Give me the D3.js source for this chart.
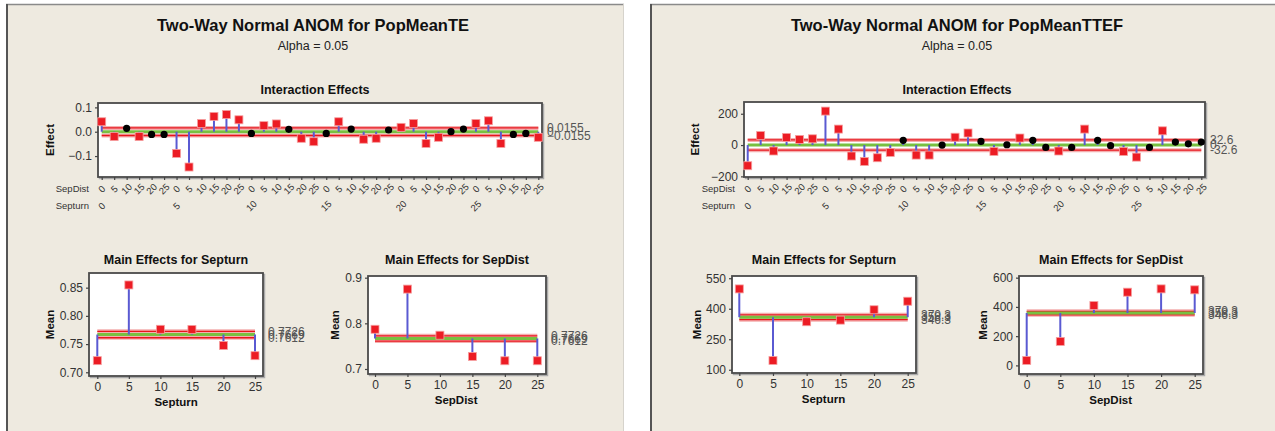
<!DOCTYPE html>
<html>
<head>
<meta charset="utf-8">
<script src="https://cdn.jsdelivr.net/npm/d3@7"></script>
<style>
  body { margin: 0; background: #ffffff; }
  svg { display: block; font-family: "Liberation Sans", Arial, sans-serif; }
</style>
</head>
<body>
<svg id="chart" width="1275" height="431"></svg>
<script>
// ---- factor levels ----
const septurnLevels = [0, 5, 10, 15, 20, 25];
const sepDistLevels = [0, 5, 10, 15, 20, 25];

// ---- PopMeanTE ----
// interaction effects, ordered Septurn-major, SepDist-minor
const teInteraction = [
   0.041, -0.020,  0.014, -0.020, -0.011, -0.011,
  -0.089, -0.145,  0.034,  0.063,  0.071,  0.049,
  -0.007,  0.025,  0.032,  0.010, -0.027, -0.041,
  -0.007,  0.041,  0.011, -0.031, -0.027,  0.007,
   0.018,  0.034, -0.048, -0.023,  0.000,  0.011,
   0.034,  0.045, -0.048, -0.011, -0.007, -0.023
];
const teInteractionLimit = 0.0155;
const teSepturnMeans = [0.7206, 0.8548, 0.7762, 0.7760, 0.7476, 0.7294];
const teSepDistMeans = [0.7870, 0.8750, 0.7740, 0.7275, 0.7180, 0.7180];
const teMainLimits = [0.7612, 0.7669, 0.7726];   // lower, centre, upper
const teMainLabels = ["0.7612", "0.7669", "0.7726"];
const teEffectTicks = [-0.1, 0.0, 0.1];
const teSepturnTicks = [0.70, 0.75, 0.80, 0.85];
const teSepDistTicks = [0.7, 0.8, 0.9];

// ---- PopMeanTTEF ----
const ttefInteraction = [
  -132,   61,  -38,   49,   36,   40,
   217,  102,  -70, -105,  -81,  -47,
    30,  -64,  -64,    0,   50,   77,
    23,  -41,    2,   45,   30,  -15,
   -38,  -15,  102,   30,   -4,  -41,
   -77,  -15,   91,   19,    8,   19
];
const ttefInteractionLimit = 32.6;
const ttefSepturnMeans = [497.5, 145.6, 336.0, 344.0, 395.0, 437.0];
const ttefSepDistMeans = [34.0, 164.0, 410.0, 501.0, 523.5, 517.0];
const ttefMainLimits = [346.3, 358.3, 370.3];
const ttefMainLabels = ["346.3", "358.3", "370.3"];
const ttefEffectTicks = [-200, 0, 200];
const ttefSepturnTicks = [100, 250, 400, 550];
const ttefSepDistTicks = [0, 200, 400, 600];

// ---- styling ----
const BG = "#eeeae0";
const RED = "#ec1c24";
const BLUE = "#5a5ad2";
const GREEN = "#78c041";
const TXT = "#333";

const svg = d3.select("#chart");

// panel backgrounds
function panel(x0, x1) {
  const g = svg.append("g");
  g.append("rect").attr("x", x0).attr("y", 4).attr("width", x1 - x0).attr("height", 440)
    .attr("fill", BG);
  g.append("line").attr("x1", x0).attr("x2", x1).attr("y1", 4.5).attr("y2", 4.5)
    .attr("stroke", "#8a8a8a").attr("stroke-width", 1.5);
  g.append("line").attr("x1", x0 + 1).attr("x2", x0 + 1).attr("y1", 4).attr("y2", 431)
    .attr("stroke", "#555").attr("stroke-width", 2);
  g.append("line").attr("x1", x1 - 0.5).attr("x2", x1 - 0.5).attr("y1", 4).attr("y2", 431)
    .attr("stroke", "#d6d3cc").attr("stroke-width", 1);
  return g;
}

function titles(g, cx, title) {
  g.append("text").attr("x", cx).attr("y", 31).attr("text-anchor", "middle")
    .attr("font-size", 16.5).attr("font-weight", "bold").attr("fill", "#111").text(title);
  g.append("text").attr("x", cx).attr("y", 50).attr("text-anchor", "middle")
    .attr("font-size", 12.5).attr("fill", "#222").text("Alpha = 0.05");
}

function limitLine(g, x1, x2, y, color) {
  if (color === RED) {
    g.append("line").attr("x1", x1).attr("x2", x2).attr("y1", y).attr("y2", y)
      .attr("stroke", "#f29a9a").attr("stroke-width", 4).attr("opacity", 0.8);
    g.append("line").attr("x1", x1).attr("x2", x2).attr("y1", y).attr("y2", y)
      .attr("stroke", "#e8141c").attr("stroke-width", 1.3);
  } else {
    g.append("line").attr("x1", x1).attr("x2", x2).attr("y1", y).attr("y2", y)
      .attr("stroke", GREEN).attr("stroke-width", 3);
  }
}

function styleAxis(axG) {
  axG.select(".domain").remove();
  axG.selectAll(".tick line").attr("stroke", "#444").attr("stroke-width", 1.2);
  axG.selectAll(".tick text").attr("fill", TXT).attr("font-size", 12)
    .attr("font-family", "Liberation Sans, Arial, sans-serif");
}

function frame(g, b) {
  g.append("rect").attr("x", b.x0 + 1.5).attr("y", b.y0 + 1.5)
    .attr("width", b.x1 - b.x0).attr("height", b.y1 - b.y0)
    .attr("fill", "none").attr("stroke", "#aaa").attr("stroke-width", 1.5);
  g.append("rect").attr("x", b.x0).attr("y", b.y0)
    .attr("width", b.x1 - b.x0).attr("height", b.y1 - b.y0)
    .attr("fill", "#fff").attr("stroke", "#4a4a4a").attr("stroke-width", 1.8);
}

function drawMarker(g, x, y, out) {
  if (out) {
    g.append("rect").attr("x", x - 4).attr("y", y - 4).attr("width", 8).attr("height", 8)
      .attr("fill", RED).attr("stroke", "#f6a0a0").attr("stroke-width", 0.8);
  } else {
    g.append("circle").attr("cx", x).attr("cy", y).attr("r", 3.6).attr("fill", "#000");
  }
}

function sideLabels(g, x, ys, labels) {
  labels.forEach((t, i) => {
    g.append("text").attr("x", x).attr("y", ys[i]).attr("dy", "0.35em")
      .attr("font-size", 12).attr("fill", "#555").text(t);
  });
}

// ---- interaction effects chart ----
function interaction(g, cfg) {
  const b = cfg.box;
  g.append("text").attr("x", cfg.titleX).attr("y", 94).attr("text-anchor", "middle")
    .attr("font-size", 12.5).attr("font-weight", "bold").attr("fill", "#111")
    .text("Interaction Effects");
  frame(g, b);
  const idx = d3.range(cfg.values.length);
  const x = d3.scalePoint().domain(idx).range([b.x0 + 3.7, b.x1 - 3.7]);
  const y = d3.scaleLinear().domain(cfg.yDomain).range([b.y1, b.y0]);
  const lim = cfg.limit;

  limitLine(g, x(0), x(idx.length - 1), y(lim), RED);
  limitLine(g, x(0), x(idx.length - 1), y(-lim), RED);
  limitLine(g, x(0), x(idx.length - 1), y(0), GREEN);

  cfg.values.forEach((v, i) => {
    g.append("line").attr("x1", x(i)).attr("x2", x(i)).attr("y1", y(0)).attr("y2", y(v))
      .attr("stroke", BLUE).attr("stroke-width", 2);
  });
  cfg.values.forEach((v, i) => drawMarker(g, x(i), y(v), Math.abs(v) > lim));

  const ya = g.append("g").attr("transform", `translate(${b.x0},0)`)
    .call(d3.axisLeft(y).tickValues(cfg.ticks).tickFormat(cfg.fmt).tickSize(3).tickPadding(3));
  styleAxis(ya);
  const xa = g.append("g").attr("transform", `translate(0,${b.y1})`)
    .call(d3.axisBottom(x).tickValues(idx).tickFormat("").tickSize(3));
  styleAxis(xa);

  // SepDist row
  idx.forEach(i => {
    const lvl = sepDistLevels[i % sepDistLevels.length];
    g.append("text").attr("transform", `translate(${x(i)},${b.y1 + 12}) rotate(-45)`)
      .attr("text-anchor", "middle").attr("dy", "0.35em")
      .attr("font-size", 9.5).attr("fill", TXT).text(lvl);
  });
  // Septurn row
  septurnLevels.forEach((lvl, k) => {
    const i = k * sepDistLevels.length;
    g.append("text").attr("transform", `translate(${x(i)},${b.y1 + 29}) rotate(-45)`)
      .attr("text-anchor", "middle").attr("dy", "0.35em")
      .attr("font-size", 9.5).attr("fill", TXT).text(lvl);
  });
  g.append("text").attr("x", b.x0 - 9).attr("y", b.y1 + 12).attr("dy", "0.35em")
    .attr("text-anchor", "end").attr("font-size", 9.5).attr("fill", TXT).text("SepDist");
  g.append("text").attr("x", b.x0 - 9).attr("y", b.y1 + 29).attr("dy", "0.35em")
    .attr("text-anchor", "end").attr("font-size", 9.5).attr("fill", TXT).text("Septurn");

  g.append("text").attr("transform", `translate(${cfg.yLabelX},${(b.y0 + b.y1) / 2}) rotate(-90)`)
    .attr("text-anchor", "middle").attr("dy", "0.35em")
    .attr("font-size", 11.5).attr("font-weight", "bold").attr("fill", "#111").text("Effect");

  sideLabels(g, b.x1 + 5, [y(lim), y(0), y(-lim)], cfg.limitLabels);
}

// ---- main effects chart ----
function mainEffects(g, cfg) {
  const b = cfg.box;
  g.append("text").attr("x", (b.x0 + b.x1) / 2).attr("y", 264).attr("text-anchor", "middle")
    .attr("font-size", 12.5).attr("font-weight", "bold").attr("fill", "#111").text(cfg.title);
  frame(g, b);
  const x = d3.scaleLinear().domain([0, 25]).range([b.x0 + cfg.xPad[0], b.x1 - cfg.xPad[1]]);
  const y = d3.scaleLinear().domain(cfg.yDomain).range([b.y1, b.y0]);
  const [lo, mid, hi] = cfg.limits;

  limitLine(g, x(0), x(25), y(hi), RED);
  limitLine(g, x(0), x(25), y(lo), RED);
  limitLine(g, x(0), x(25), y(mid), GREEN);

  cfg.values.forEach((v, i) => {
    g.append("line").attr("x1", x(cfg.levels[i])).attr("x2", x(cfg.levels[i]))
      .attr("y1", y(mid)).attr("y2", y(v)).attr("stroke", BLUE).attr("stroke-width", 2);
  });
  cfg.values.forEach((v, i) => drawMarker(g, x(cfg.levels[i]), y(v), v > hi || v < lo));

  const ya = g.append("g").attr("transform", `translate(${b.x0},0)`)
    .call(d3.axisLeft(y).tickValues(cfg.ticks).tickFormat(cfg.fmt).tickSize(3).tickPadding(3));
  styleAxis(ya);
  const xa = g.append("g").attr("transform", `translate(0,${b.y1})`)
    .call(d3.axisBottom(x).tickValues(cfg.levels).tickFormat(d3.format("d")).tickSize(3).tickPadding(3));
  styleAxis(xa);

  g.append("text").attr("x", (x(0) + x(25)) / 2).attr("y", b.y1 + 30).attr("text-anchor", "middle")
    .attr("font-size", 11.5).attr("font-weight", "bold").attr("fill", "#111").text(cfg.xTitle);
  g.append("text").attr("transform", `translate(${cfg.yLabelX},${(b.y0 + b.y1) / 2}) rotate(-90)`)
    .attr("text-anchor", "middle").attr("dy", "0.35em")
    .attr("font-size", 11.5).attr("font-weight", "bold").attr("fill", "#111").text("Mean");

  sideLabels(g, b.x1 + 5, [y(hi), y(mid), y(lo)], [cfg.labels[2], cfg.labels[1], cfg.labels[0]]);
}

// ---------------- PopMeanTE panel ----------------
const left = panel(6, 624);
titles(left, 313, "Two-Way Normal ANOM for PopMeanTE");
interaction(left, {
  box: { x0: 98, y0: 103, x1: 542, y1: 177 }, titleX: 315, yLabelX: 50,
  values: teInteraction, limit: teInteractionLimit, yDomain: [-0.186, 0.118],
  ticks: teEffectTicks, fmt: d3.format(".1f"),
  limitLabels: [d3.format(".4f")(teInteractionLimit), "0", d3.format(".4f")(-teInteractionLimit)]
});
mainEffects(left, {
  title: "Main Effects for Septurn", xTitle: "Septurn",
  box: { x0: 89, y0: 273, x1: 263, y1: 376 }, xPad: [8.3, 8], yLabelX: 50,
  levels: septurnLevels, values: teSepturnMeans, limits: teMainLimits, labels: teMainLabels,
  yDomain: [0.6934, 0.876], ticks: teSepturnTicks, fmt: d3.format(".2f")
});
mainEffects(left, {
  title: "Main Effects for SepDist", xTitle: "SepDist",
  box: { x0: 368, y0: 276, x1: 546, y1: 374 }, xPad: [7, 8.7], yLabelX: 335,
  levels: sepDistLevels, values: teSepDistMeans, limits: teMainLimits, labels: teMainLabels,
  yDomain: [0.689, 0.9037], ticks: teSepDistTicks, fmt: d3.format(".1f")
});

// ---------------- PopMeanTTEF panel ----------------
const right = panel(650, 1276);
titles(right, 957, "Two-Way Normal ANOM for PopMeanTTEF");
interaction(right, {
  box: { x0: 744, y0: 102, x1: 1205, y1: 177 }, titleX: 957, yLabelX: 695,
  values: ttefInteraction, limit: ttefInteractionLimit, yDomain: [-204, 275],
  ticks: ttefEffectTicks, fmt: d3.format("d"),
  limitLabels: [String(ttefInteractionLimit), "0", String(-ttefInteractionLimit)]
});
mainEffects(right, {
  title: "Main Effects for Septurn", xTitle: "Septurn",
  box: { x0: 732, y0: 276, x1: 916, y1: 373 }, xPad: [7.3, 8.3], yLabelX: 697,
  levels: septurnLevels, values: ttefSepturnMeans, limits: ttefMainLimits, labels: ttefMainLabels,
  yDomain: [84, 561], ticks: ttefSepturnTicks, fmt: d3.format("d")
});
mainEffects(right, {
  title: "Main Effects for SepDist", xTitle: "SepDist",
  box: { x0: 1019, y0: 276, x1: 1203, y1: 374 }, xPad: [7.7, 8.3], yLabelX: 983,
  levels: sepDistLevels, values: ttefSepDistMeans, limits: ttefMainLimits, labels: ttefMainLabels,
  yDomain: [-58.7, 611.6], ticks: ttefSepDistTicks, fmt: d3.format("d")
});
</script>
</body>
</html>
